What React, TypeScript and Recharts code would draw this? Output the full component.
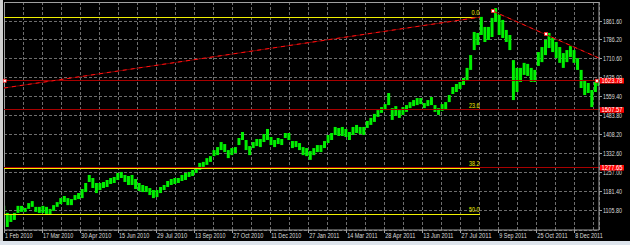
import { ComposedChart, Bar, XAxis, YAxis, CartesianGrid, ReferenceLine, ReferenceDot } from 'recharts'

// Gold daily bars, one entry every 3 sessions from 1 Feb 2010
const highs = [
  1126, 1098, 1094, 1098, 1126, 1126, 1118, 1137, 1145, 1122,
  1122, 1126, 1122, 1114, 1129, 1141, 1157, 1165, 1157, 1153,
  1169, 1177, 1193, 1217, 1249, 1237, 1217, 1217, 1221, 1229,
  1237, 1241, 1257, 1261, 1249, 1245, 1249, 1233, 1217, 1209,
  1205, 1197, 1189, 1189, 1201, 1209, 1225, 1233, 1237, 1237,
  1249, 1257, 1261, 1269, 1281, 1297, 1301, 1316, 1324, 1348,
  1360, 1380, 1372, 1348, 1356, 1360, 1396, 1420, 1388, 1364,
  1380, 1392, 1392, 1412, 1432, 1400, 1388, 1396, 1392, 1416,
  1416, 1384, 1384, 1376, 1360, 1356, 1344, 1356, 1368, 1368,
  1384, 1408, 1416, 1440, 1436, 1440, 1432, 1420, 1440, 1448,
  1440, 1440, 1464, 1476, 1492, 1507, 1519, 1531, 1575, 1515,
  1523, 1507, 1519, 1527, 1539, 1547, 1555, 1555, 1535, 1547,
  1559, 1527, 1515, 1531, 1539, 1567, 1599, 1611, 1619, 1635,
  1675, 1726, 1818, 1814, 1878, 1838, 1838, 1874, 1913, 1886,
  1866, 1826, 1806, 1706, 1675, 1675, 1695, 1691, 1675, 1667,
  1738, 1758, 1786, 1814, 1794, 1778, 1758, 1734, 1746, 1762,
  1746, 1714, 1667, 1627, 1615, 1587, 1619, 1631,
]
const lows = [
  1102, 1042, 1062, 1070, 1098, 1102, 1102, 1114, 1122, 1102,
  1098, 1098, 1094, 1090, 1106, 1122, 1133, 1141, 1129, 1129,
  1149, 1153, 1157, 1181, 1221, 1197, 1177, 1189, 1197, 1201,
  1213, 1217, 1229, 1237, 1221, 1209, 1209, 1193, 1185, 1181,
  1181, 1169, 1157, 1161, 1177, 1189, 1201, 1209, 1213, 1217,
  1225, 1229, 1241, 1245, 1257, 1269, 1281, 1289, 1301, 1324,
  1328, 1348, 1340, 1316, 1328, 1336, 1368, 1388, 1348, 1328,
  1356, 1364, 1360, 1380, 1388, 1368, 1360, 1372, 1368, 1396,
  1388, 1356, 1360, 1348, 1328, 1324, 1309, 1328, 1340, 1340,
  1356, 1376, 1388, 1408, 1404, 1404, 1400, 1388, 1408, 1416,
  1412, 1408, 1436, 1448, 1460, 1480, 1496, 1507, 1527, 1468,
  1484, 1476, 1488, 1500, 1515, 1523, 1527, 1531, 1515, 1523,
  1527, 1500, 1488, 1504, 1511, 1539, 1571, 1579, 1591, 1607,
  1627, 1667, 1746, 1766, 1806, 1778, 1786, 1798, 1858, 1806,
  1794, 1778, 1746, 1547, 1579, 1619, 1647, 1643, 1619, 1619,
  1683, 1698, 1726, 1754, 1738, 1714, 1695, 1675, 1698, 1718,
  1695, 1667, 1595, 1567, 1575, 1519, 1579, 1603,
]
const SESSIONS_PER_BAR = 3
const LAST_SESSION = 500.8

// one date label every 32 sessions, grid every 16
const timeLabels = [
  '1 Feb 2010', '17 Mar 2010', '30 Apr 2010', '15 Jun 2010', '29 Jul 2010', '13 Sep 2010',
  '27 Oct 2010', '11 Dec 2010', '27 Jan 2011', '14 Mar 2011', '28 Apr 2011', '13 Jun 2011',
  '27 Jul 2011', '9 Sep 2011', '25 Oct 2011', '8 Dec 2011',
]
const timeTicks = Array.from({ length: 32 }, (_, i) => i * 16)

const PRICE_MIN = 1030
const PRICE_MAX = 1937.2
const priceTicks = [1105.8, 1181.4, 1257.0, 1332.6, 1408.2, 1483.8, 1559.4, 1635.0, 1710.6, 1786.2, 1861.6]
const lineLevels = [1623.78, 1507.57, 1277.65]

// fibonacci retracement levels
const fibNames = ['0.0', '23.6', '38.2', '50.0']
const fibPrices = [1876.7, 1507.5, 1275.5, 1092.5]
const FIB_END = 400.6

// trend lines and their anchor points
const trendUp = [{ x: 0, y: 1595 }, { x: 400.6, y: 1877 }]
const trendDown = [{ x: 411.5, y: 1901 }, { x: LAST_SESSION, y: 1714 }]
const anchorSessions = [0.6, 411.5, 456.2, 499]
const anchorPrices = [1623.78, 1901, 1810, 1623.78]

const data = highs.map((h, i) => ({ session: i * SESSIONS_PER_BAR, range: [lows[i], h] }))

const FONT = 'Liberation Sans, Arial, sans-serif'
const FRAME = '#a0a0a0'
const DARK_RED = '#a80000'

function TimeTick(props: any) {
  const { x, y, payload } = props
  const v = payload.value as number
  if (v % 32 !== 0) return <g />
  const label = timeLabels[v / 32]
  return (
    <g>
      <line x1={x} x2={x} y1={y} y2={y + 3} stroke={FRAME} shapeRendering="crispEdges" />
      <text x={x + 1} y={y + 8} fontSize={7} fill="#dcdcdc" fontFamily={FONT}
        textLength={label.length * 2.75} lengthAdjust="spacingAndGlyphs">{label}</text>
    </g>
  )
}

function PriceTick(props: any) {
  const { x, y, payload } = props
  const v = payload.value as number
  const text = v.toFixed(2)
  if (lineLevels.includes(v)) {
    return (
      <g>
        <rect x={x + 1} y={y - 2.8} width={24} height={5.6} fill="#ff0000" />
        <text x={x + 2.5} y={y + 2.2} fontSize={6.3} fill="#ffffff" fontFamily={FONT}
          textLength={21} lengthAdjust="spacingAndGlyphs">{text}</text>
      </g>
    )
  }
  return (
    <g>
      <line x1={x} x2={x + 3} y1={y} y2={y} stroke={FRAME} shapeRendering="crispEdges" />
      <text x={x + 4} y={y + 2.5} fontSize={7} fill="#dcdcdc" fontFamily={FONT}
        textLength={19} lengthAdjust="spacingAndGlyphs">{text}</text>
    </g>
  )
}

const anchorShape = (p: any) => (
  <rect x={p.cx - 1.5} y={p.cy - 1.5} width={3} height={3} fill="#ffffff" stroke="#ff2020" strokeWidth={0.8} />
)

export default function App() {
  return (
    <div style={{ position: 'absolute', left: 0, top: 0, width: 630, height: 245, background: '#000', overflow: 'hidden' }}>
      <ComposedChart width={630} height={245} data={data} margin={{ top: 2, right: 0, bottom: 0, left: 4 }}>
        <CartesianGrid stroke="#6e6e6e" strokeDasharray="3 2" shapeRendering="crispEdges" />
        <XAxis dataKey="session" type="number" domain={[0, LAST_SESSION]} allowDataOverflow
          ticks={timeTicks} interval={0} tick={TimeTick} tickLine={false} tickSize={0} tickMargin={0}
          axisLine={{ stroke: FRAME }} height={15} />
        <YAxis orientation="right" type="number" domain={[PRICE_MIN, PRICE_MAX]} allowDataOverflow
          ticks={[...priceTicks, ...lineLevels]} interval={0} tick={PriceTick} tickLine={false}
          tickSize={0} tickMargin={0} axisLine={{ stroke: FRAME }} width={31} />

        <ReferenceLine y={PRICE_MAX} stroke={FRAME} shapeRendering="crispEdges" />
        <ReferenceLine x={0} stroke={FRAME} shapeRendering="crispEdges" />

        {/* fibonacci levels */}
        {fibPrices.map((p, i) => (
          <ReferenceLine key={'fib' + i} segment={[{ x: 0, y: p }, { x: FIB_END, y: p }]}
            stroke="#f0f000" shapeRendering="crispEdges" />
        ))}
        {fibPrices.map((p, i) => (
          <ReferenceDot key={'fibl' + i} x={FIB_END - 0.5} y={p} r={0}
            shape={(s: any) => (
              <text x={s.cx} y={s.cy - 2} textAnchor="end" fontSize={7} fill="#f0f000" fontFamily={FONT}
                textLength={fibNames[i].length * 2.6} lengthAdjust="spacingAndGlyphs">{fibNames[i]}</text>
            )} />
        ))}

        <Bar dataKey="range" fill="#00f000" barSize={3} isAnimationActive={false} />

        {/* horizontal lines with price boxes */}
        {lineLevels.map((p) => (
          <ReferenceLine key={'h' + p} y={p} stroke={DARK_RED} shapeRendering="crispEdges" />
        ))}

        {/* trend lines */}
        <ReferenceLine segment={trendUp} stroke="#700000" />
        <ReferenceLine segment={trendUp} stroke="#ff1010" strokeDasharray="4 4" />
        <ReferenceLine segment={trendDown} stroke="#700000" />
        <ReferenceLine segment={trendDown} stroke="#ff1010" strokeDasharray="4 4" />

        {anchorSessions.map((s, i) => (
          <ReferenceDot key={'a' + i} x={s} y={anchorPrices[i]} r={2} shape={anchorShape} />
        ))}
      </ComposedChart>
      <div style={{ position: 'absolute', left: 0, top: 0, width: 3, height: 245, background: '#cfcfcf' }} />
      <div style={{ position: 'absolute', left: 0, top: 241, width: 630, height: 4, background: '#dde4ec' }} />
    </div>
  )
}
